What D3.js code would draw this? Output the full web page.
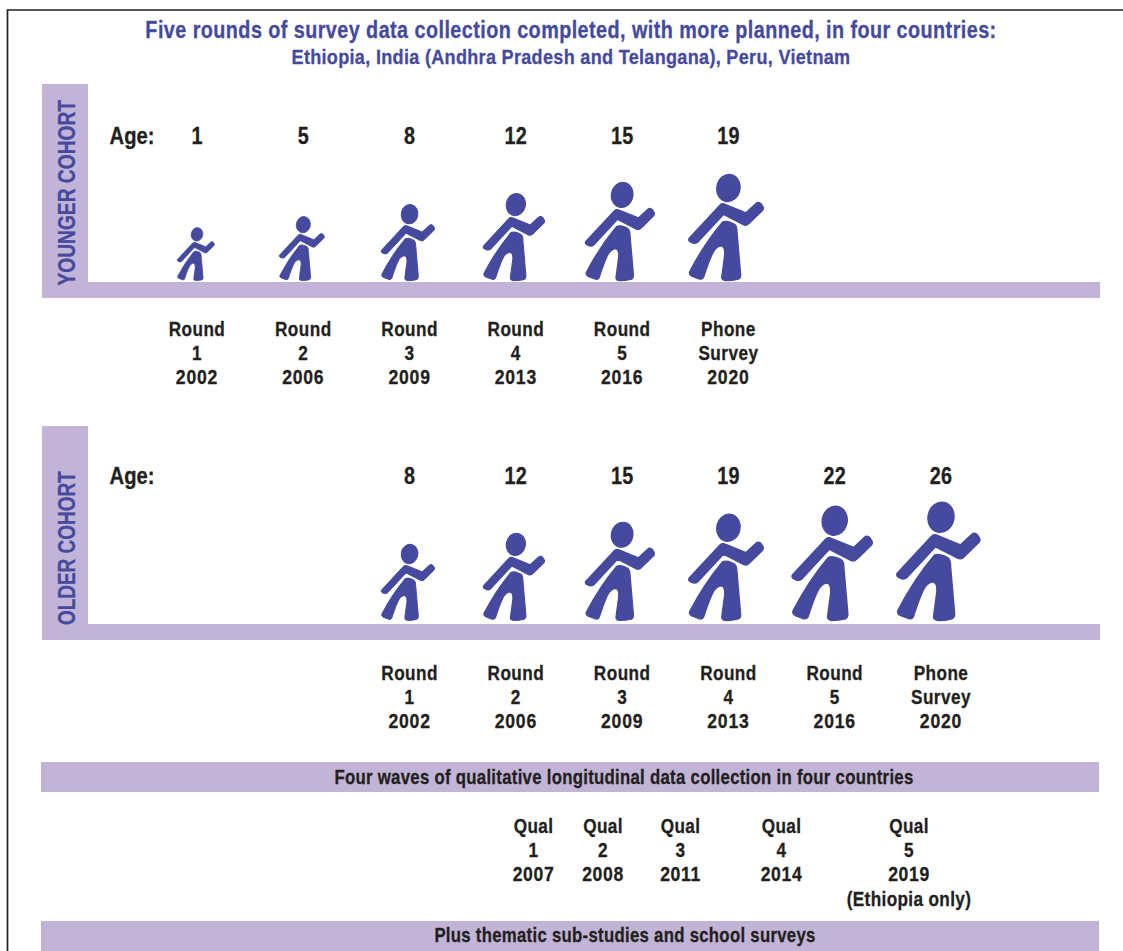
<!DOCTYPE html>
<html><head><meta charset="utf-8">
<script src="https://cdn.jsdelivr.net/npm/d3@7"></script>
<style>
html,body{margin:0;padding:0;background:#fff;overflow:hidden}
svg{display:block}
text{font-family:"Liberation Sans",sans-serif;font-weight:700;stroke-width:0.3px}
</style></head><body>
<svg id="c" width="1123" height="951"></svg>
<script>
const titleLine1 = "Five rounds of survey data collection completed, with more planned, in four countries:";
const titleLine2 = "Ethiopia, India (Andhra Pradesh and Telangana), Peru, Vietnam";
const slots = ["s1","s2","s3","s4","s5","s6","s7","s8"];
const roundNames = ["Round","Round","Round","Round","Round","Phone"];
const roundSubs = ["1","2","3","4","5","Survey"];
const roundYears = ["2002","2006","2009","2013","2016","2020"];
const youngerAges = [1,5,8,12,15,19];
const olderAges = [8,12,15,19,22,26];
const youngerSlots = ["s1","s2","s3","s4","s5","s6"];
const olderSlots = ["s3","s4","s5","s6","s7","s8"];
const qualNames = ["Qual 1","Qual 2","Qual 3","Qual 4","Qual 5"];
const qualYears = ["2007","2008","2011","2014","2019"];
const qualNote = "(Ethiopia only)";
const band1 = "Four waves of qualitative longitudinal data collection in four countries";
const band2 = "Plus thematic sub-studies and school surveys";

const BLUE="#464a9e", LILAC="#c1b4d6", INK="#231f20", K=0.86;
const svg=d3.select("#c");
const x=d3.scalePoint().domain(slots).range([197,941]);
const height=d3.scaleLinear().domain([1,5,8,12,15,19,22,26]).range([53,64,76,87,98,106,114,118]);
const qx=d3.scaleOrdinal().domain(qualNames).range([533.5,603,680.5,781.5,909]);

svg.append("path").attr("d","M7.5,951V10H1123").attr("fill","none").attr("stroke",INK).attr("stroke-width",1.7);

function txt(s,px,py,size,fill,ls){
  return svg.append("text").attr("transform",`translate(${px},${py}) scale(${K},1)`).attr("text-anchor","middle")
   .attr("font-size",size).attr("fill",fill).attr("stroke",fill).attr("letter-spacing",ls||0).text(s);
}
txt(titleLine1,571,38,23,BLUE,0.52);
txt(titleLine2,571,63.5,21,BLUE,0.36);

const ARMS="M58,230L148,133Q155,127 165,132L226,157L256,129Q264,122 272,130L278,140Q280,147 274,152L236,189Q228,198 218,193L158,162L80,246Q72,252 62,247L55,243Q50,236 58,230Z";
const BODY="M155,185Q165,180 182,187L192,192Q199,197 199,217L210,344Q210,357 200,358Q185,362 165,362Q151,360 153,350L162,282Q163,258 150,257Q140,258 130,271Q118,290 98,352Q94,359 86,357L62,348Q52,342 57,333Q100,250 155,185Z";

function cohort(top,bottom,label,labelY,labelK,ages,sl,ageY,baseY,rowY){
  svg.append("rect").attr("x",42).attr("y",top).attr("width",46).attr("height",bottom-top).attr("fill",LILAC);
  svg.append("rect").attr("x",42).attr("y",bottom-16).attr("width",1058).attr("height",16).attr("fill",LILAC);
  svg.append("text").attr("transform",`translate(75,${labelY}) rotate(-90) scale(${labelK},1)`)
    .attr("font-size",24).attr("fill",BLUE).attr("stroke",BLUE).text(label);
  txt("Age:",132,ageY,23.5,INK,0);
  ages.forEach((a,i)=>{
    const cx=x(sl[i]);
    txt(a,cx,ageY,23,INK,0.3);
    const g=svg.append("g").attr("transform",`translate(${cx},${baseY}) scale(${height(a)/320}) translate(-173,-362)`)
      .attr("fill",BLUE).attr("stroke",BLUE).attr("stroke-width",4).attr("stroke-linejoin","round");
    g.append("path").attr("d",ARMS);
    g.append("path").attr("d",BODY);
    g.append("ellipse").attr("rx",35).attr("ry",41).attr("transform","translate(173,82) rotate(12)");
    txt(roundNames[i],cx,rowY,20,INK,0.5);
    txt(roundSubs[i],cx,rowY+24,20,INK,0.5);
    txt(roundYears[i],cx,rowY+48,20.5,INK,0.9);
  });
}
cohort(84,298,"YOUNGER COHORT",285.5,0.80,youngerAges,youngerSlots,143.6,280.7,336);
cohort(426,640,"OLDER COHORT",625,0.79,olderAges,olderSlots,483.6,620.5,680);

[[762,30,band1,624,783.5],[921,30,band2,625,942]].forEach(([y,h,s,tx,ty])=>{
  svg.append("rect").attr("x",41).attr("y",y).attr("width",1058).attr("height",h).attr("fill",LILAC);
  txt(s,tx,ty,19.5,INK,0.33);
});
qualNames.forEach((q,i)=>{
  const [a,b]=q.split(" ");
  txt(a,qx(q),833,20,INK,0.4);
  txt(b,qx(q),857,20,INK,0.4);
  txt(qualYears[i],qx(q),881,20.5,INK,0.7);
});
txt(qualNote,909,905.5,20,INK,0.4);
</script></body></html>
